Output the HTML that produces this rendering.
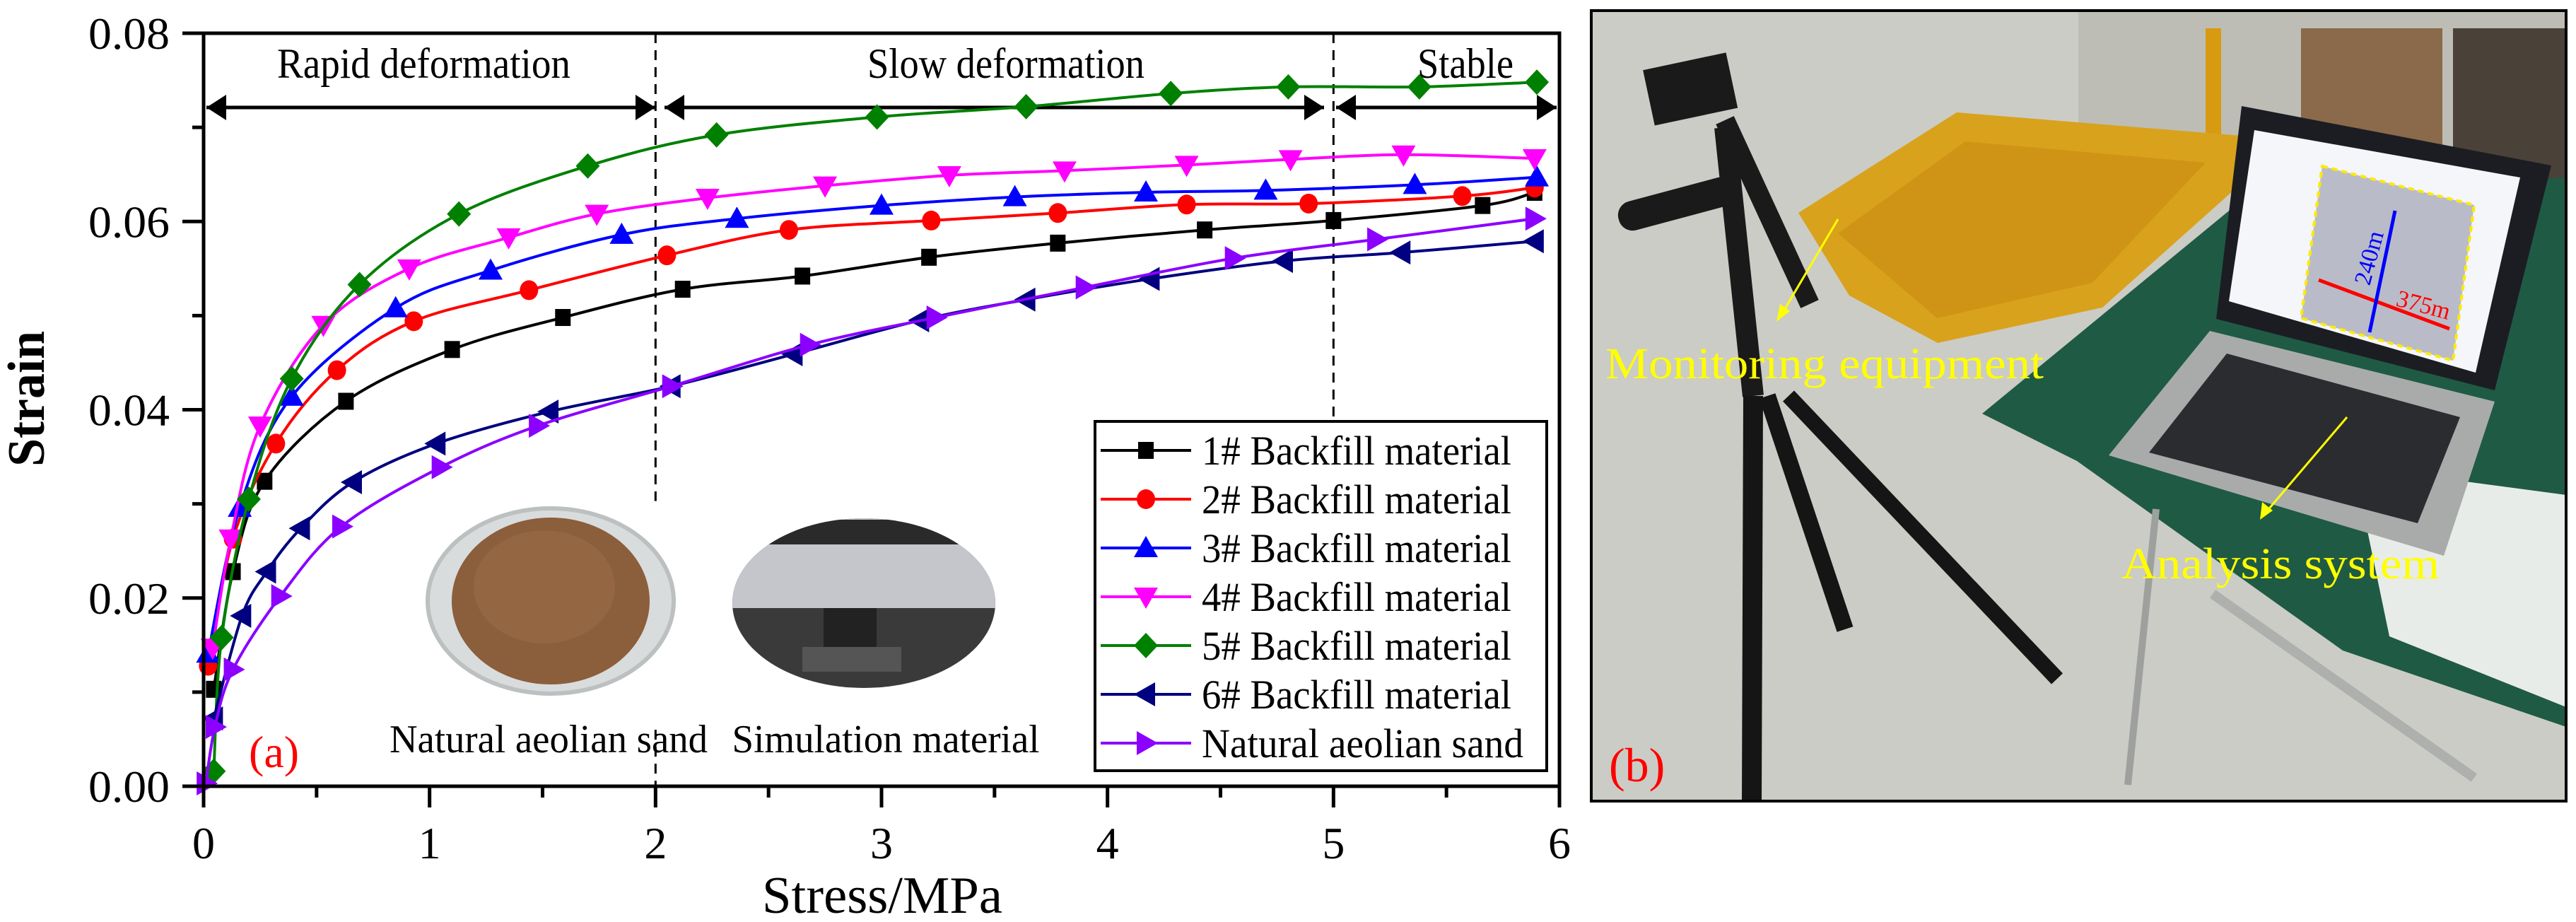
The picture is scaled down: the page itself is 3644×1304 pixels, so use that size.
<!DOCTYPE html>
<html><head><meta charset="utf-8"><style>
html,body{margin:0;padding:0;background:#fff;}
svg{display:block;}
svg text{font-family:"Liberation Serif","Times New Roman",serif;}
</style></head>
<body>
<svg id="fig" width="3644" height="1304" viewBox="0 0 3644 1304" xmlns="http://www.w3.org/2000/svg" font-family="Liberation Serif, Times New Roman, serif">
<defs>
<clipPath id="clipSim"><ellipse cx="1222" cy="853" rx="186" ry="120"/></clipPath>
<clipPath id="clipB"><rect x="2251" y="15" width="1379" height="1118"/></clipPath>
</defs>
<rect x="0" y="0" width="3644" height="1304" fill="#fff"/>
<g id="photoB" clip-path="url(#clipB)">
  <rect x="2251" y="15" width="1379" height="1118" fill="#cbccc5"/>
  <rect x="2940" y="15" width="690" height="230" fill="#bdbdb6"/>
  <rect x="3255" y="40" width="200" height="200" fill="#8a6a4a"/>
  <rect x="3470" y="40" width="160" height="220" fill="#4a4238"/>
  <rect x="3120" y="40" width="22" height="220" fill="#d89a10"/>
  <polygon points="2544,301 2768,159 3171,192 3171,259 2974,435 2741,485 2616,418" fill="#d9a21c"/>
  <polygon points="2600,330 2780,200 3120,230 2960,400 2740,450" fill="#c88a10" opacity="0.6"/>
  <polygon points="2804,585 3180,276 3630,251 3630,1028 3314,920 2938,652" fill="#1f5a45"/>
  <polygon points="3330,660 3630,700 3630,1000 3380,900" fill="#e8ece8"/>
  <polygon points="2983,644 3126,468 3529,568 3457,786" fill="#a9abab"/>
  <polygon points="3040,640 3150,500 3480,590 3420,740" fill="#2a2c30"/>
  <polygon points="3171,150 3609,234 3529,552 3135,451" fill="#1c1d22"/>
  <polygon points="3189,184 3565,251 3502,527 3153,426" fill="#f4f6fa"/>
  <polygon points="3285,235 3500,290 3470,510 3255,450" fill="#b9bcc8" stroke="#ffea00" stroke-width="4" stroke-dasharray="8,6"/>
  <line x1="3280" y1="396" x2="3465" y2="465" stroke="#ff0000" stroke-width="5"/>
  <line x1="3388" y1="298" x2="3352" y2="470" stroke="#0000ff" stroke-width="5"/>
  <text x="0" y="0" font-size="34" fill="#0000ff" transform="translate(3352,405) rotate(-75)">240m</text>
  <text x="3388" y="432" font-size="34" fill="#ff0000" transform="rotate(15 3388 432)">375m</text>
  <rect x="2330" y="85" width="120" height="80" fill="#1a1a1a" transform="rotate(-12 2395 120)"/>
  <rect x="2285" y="265" width="170" height="42" rx="20" fill="#1a1a1a" transform="rotate(-15 2380 280)"/>
  <line x1="2440" y1="170" x2="2560" y2="430" stroke="#1a1a1a" stroke-width="28"/>
  <line x1="2440" y1="180" x2="2480" y2="560" stroke="#1a1a1a" stroke-width="30"/>
  <line x1="2480" y1="560" x2="2478" y2="1133" stroke="#151515" stroke-width="28"/>
  <line x1="2500" y1="560" x2="2610" y2="890" stroke="#151515" stroke-width="24"/>
  <line x1="2530" y1="560" x2="2910" y2="960" stroke="#151515" stroke-width="22"/>
  <line x1="3050" y1="720" x2="3010" y2="1110" stroke="#9ea09e" stroke-width="10"/>
  <line x1="3130" y1="840" x2="3500" y2="1100" stroke="#aeb0ae" stroke-width="14"/>
  <line x1="2600" y1="310" x2="2520" y2="445" stroke="#ffff00" stroke-width="3"/>
  <polygon points="2513,455 2518,430 2532,440" fill="#ffff00"/>
  <line x1="3320" y1="590" x2="3205" y2="725" stroke="#ffff00" stroke-width="3"/>
  <polygon points="3197,735 3200,710 3215,722" fill="#ffff00"/>
  <text x="2271" y="535" font-size="62" fill="#ffff00" font-family="Liberation Serif, serif" textLength="620" lengthAdjust="spacingAndGlyphs">Monitoring equipment</text>
  <text x="3001" y="818" font-size="62" fill="#ffff00" font-family="Liberation Serif, serif" textLength="450" lengthAdjust="spacingAndGlyphs">Analysis system</text>
  <text x="2276" y="1105" font-size="68" fill="#ff0000" font-family="Liberation Serif, serif">(b)</text>
</g>
<rect x="2251" y="15" width="1379" height="1118" fill="none" stroke="#000" stroke-width="4"/>
<g id="chart"></g>
</svg>
<script>
const categoriesX = [0,1,2,3,4,5,6];
const yTicks = [0,0.02,0.04,0.06,0.08];
const yTickLabels = ["0.00","0.02","0.04","0.06","0.08"];
const seriesNames = ["1# Backfill material","2# Backfill material","3# Backfill material","4# Backfill material","5# Backfill material","6# Backfill material","Natural aeolian sand"];
const s1x = [0.045,0.13,0.27,0.63,1.10,1.59,2.12,2.65,3.21,3.78,4.43,5.0,5.66,5.89];
const s1y = [0.0103,0.0228,0.0324,0.0409,0.0464,0.0498,0.0528,0.0542,0.0562,0.0577,0.0591,0.0601,0.0617,0.0631];
const s2x = [0.02,0.13,0.32,0.59,0.93,1.44,2.05,2.59,3.22,3.78,4.35,4.89,5.57,5.89];
const s2y = [0.0128,0.0263,0.0364,0.0442,0.0494,0.0527,0.0564,0.0591,0.0601,0.0609,0.0618,0.0619,0.0627,0.0636];
const s3x = [0.02,0.16,0.39,0.85,1.27,1.85,2.36,3.0,3.59,4.17,4.70,5.36,5.90];
const s3y = [0.0141,0.0296,0.0414,0.0508,0.0548,0.0586,0.0603,0.0617,0.0626,0.0631,0.0633,0.0639,0.0647];
const s4x = [0.04,0.12,0.25,0.53,0.91,1.35,1.74,2.23,2.75,3.30,3.81,4.35,4.81,5.31,5.89];
const s4y = [0.0147,0.0263,0.0383,0.0490,0.0550,0.0583,0.0608,0.0625,0.0638,0.0649,0.0654,0.0660,0.0666,0.0671,0.0667];
const s5x = [0.045,0.08,0.20,0.39,0.69,1.13,1.70,2.27,2.98,3.64,4.28,4.80,5.38,5.90];
const s5y = [0.0016,0.0158,0.0305,0.0433,0.0533,0.0608,0.0659,0.0692,0.0711,0.0722,0.0736,0.0743,0.0743,0.0748];
const s6x = [0.045,0.17,0.28,0.43,0.66,1.03,1.53,2.07,2.61,3.17,3.64,4.19,4.78,5.30,5.89];
const s6y = [0.0072,0.0181,0.0228,0.0274,0.0323,0.0364,0.0398,0.0425,0.0459,0.0495,0.0517,0.0539,0.0558,0.0567,0.0579];
const s7x = [0.01,0.05,0.13,0.34,0.61,1.05,1.48,2.07,2.68,3.24,3.90,4.56,5.19,5.89];
const s7y = [0.0003,0.0063,0.0124,0.0202,0.0276,0.0339,0.0383,0.0425,0.0469,0.0498,0.0530,0.0561,0.0581,0.0603];

const NS="http://www.w3.org/2000/svg";
const FONT="Liberation Serif, Times New Roman, serif";
const X0=288,X1=2206,Y0=1112,Y1=47;
const xs=v=>X0+(X1-X0)*v/6;
const ys=v=>Y0-(Y0-Y1)*v/0.08;
const g=document.getElementById('chart');
function mk(tag,attrs,parent){const e=document.createElementNS(NS,tag);for(const k in attrs)e.setAttribute(k,attrs[k]);(parent||g).appendChild(e);return e;}
function txt(x,y,s,size,extra,parent){const t=mk('text',Object.assign({x:x,y:y,'font-size':size,'font-family':FONT},extra||{}),parent);t.textContent=s;return t;}

// inset photos
let p=mk('ellipse',{cx:779,cy:850,rx:174,ry:131,fill:'#d9dcdc',stroke:'#bcc0c0','stroke-width':6});


mk('ellipse',{cx:779,cy:850,rx:140,ry:118,fill:'#8b5e3c'});
mk('ellipse',{cx:770,cy:830,rx:100,ry:80,fill:'#9a6a45',opacity:0.7});
const sim=mk('g',{'clip-path':'url(#clipSim)'});


mk('rect',{x:1030,y:730,width:390,height:250,fill:'#3a3a3a'},sim);
mk('rect',{x:1030,y:730,width:390,height:130,fill:'#c4c6cc'},sim);
mk('rect',{x:1060,y:735,width:300,height:35,fill:'#2a2a2a'},sim);
mk('rect',{x:1165,y:860,width:75,height:60,fill:'#222'},sim);
mk('rect',{x:1135,y:915,width:140,height:35,fill:'#555'},sim);

// dashed lines
[[2,Y1,ys(0.0303)],[2,ys(0.006),Y0],[5,Y1,596]].forEach(d=>{
  const l=mk('line',{x1:xs(d[0]),x2:xs(d[0]),y1:d[1],y2:d[2],stroke:'#000','stroke-width':3,'stroke-dasharray':'14,10'});
  
  
});

// arrows
const ay=152;
function arrow(a,b){
  const l=mk('line',{x1:a,x2:b,y1:ay,y2:ay,stroke:'#000','stroke-width':5});
  
  
  mk('polygon',{points:`${a},${ay} ${a+28},${ay-18} ${a+28},${ay+18}`,fill:'#000'});
  mk('polygon',{points:`${b},${ay} ${b-28},${ay-18} ${b-28},${ay+18}`,fill:'#000'});
}
arrow(292,927);arrow(940,1873);arrow(1890,2202);
let t=txt(392,110,'Rapid deformation',60,{textLength:415,lengthAdjust:'spacingAndGlyphs'});


t=txt(1227,110,'Slow deformation',60,{textLength:392,lengthAdjust:'spacingAndGlyphs'});


t=txt(2005,110,'Stable',60,{textLength:136,lengthAdjust:'spacingAndGlyphs'});



const colors=['#000000','#ff0000','#0000ff','#ff00ff','#008000','#000080','#8b00ff'];
const shapes=['square','circle','up','down','diamond','left','right'];
const SX=[s1x,s2x,s3x,s4x,s5x,s6x,s7x],SY=[s1y,s2y,s3y,s4y,s5y,s6y,s7y];

function marker(shape,cx,cy,col,parent){
  let e;
  if(shape==='square')e=mk('rect',{x:cx-11,y:cy-12,width:22,height:24,fill:col},parent);
  else if(shape==='circle')e=mk('ellipse',{cx:cx,cy:cy,rx:13,ry:14,fill:col},parent);
  else{let pts;
    if(shape==='up')pts=[[cx,cy-17],[cx+17,cy+13],[cx-17,cy+13]];
    if(shape==='down')pts=[[cx,cy+17],[cx+17,cy-13],[cx-17,cy-13]];
    if(shape==='diamond')pts=[[cx,cy-18],[cx+17,cy],[cx,cy+18],[cx-17,cy]];
    if(shape==='left')pts=[[cx-17,cy],[cx+13,cy-17],[cx+13,cy+17]];
    if(shape==='right')pts=[[cx+17,cy],[cx-13,cy-17],[cx-13,cy+17]];
    e=mk('polygon',{points:pts.map(q=>q.join(',')).join(' '),fill:col},parent);}
  return e;
}
function smooth(pts){
  let d=`M${pts[0][0]},${pts[0][1]}`;
  for(let i=0;i<pts.length-1;i++){
    const p0=pts[Math.max(0,i-1)],p1=pts[i],p2=pts[i+1],p3=pts[Math.min(pts.length-1,i+2)];
    const c1=[p1[0]+(p2[0]-p0[0])/6,p1[1]+(p2[1]-p0[1])/6];
    const c2=[p2[0]-(p3[0]-p1[0])/6,p2[1]-(p3[1]-p1[1])/6];
    d+=` C${c1[0]},${c1[1]} ${c2[0]},${c2[1]} ${p2[0]},${p2[1]}`;
  }
  return d;
}
for(let s=0;s<7;s++){
  const pts=SX[s].map((v,i)=>[xs(v),ys(SY[s][i])]);
  const sg=mk('g',{});
  
  
  const path=mk('path',{d:smooth(pts),fill:'none',stroke:colors[s],'stroke-width':4},sg);
  
  
  pts.forEach(q=>{
    const m=marker(shapes[s],q[0],q[1],colors[s],sg);
    
    
  });
}

// axes frame
let ax=mk('rect',{x:X0,y:Y1,width:X1-X0,height:Y0-Y1,fill:'none',stroke:'#000','stroke-width':5});


for(let v=0;v<=6;v+=0.5){
  const major=Number.isInteger(v);
  const l=mk('line',{x1:xs(v),x2:xs(v),y1:Y0,y2:Y0+(major?30:16),stroke:'#000','stroke-width':5});
  
  
}
categoriesX.forEach(v=>{
  const t=txt(xs(v),1214,String(v),64,{'text-anchor':'middle'});
  
  
});
for(let v=0;v<=0.0801;v+=0.01){
  const major=Math.round(v*100)%2===0;
  const l=mk('line',{x1:X0,x2:X0-(major?30:16),y1:ys(v),y2:ys(v),stroke:'#000','stroke-width':5});
  
  
}
yTicks.forEach((v,i)=>{
  const t=txt(240,ys(v)+22,yTickLabels[i],64,{'text-anchor':'end',textLength:115,lengthAdjust:'spacingAndGlyphs'});
  
  
});
t=txt(1248,1291,'Stress/MPa',74,{'text-anchor':'middle',textLength:340,lengthAdjust:'spacingAndGlyphs'});


t=txt(0,0,'Strain',74,{'text-anchor':'middle','font-weight':'bold',transform:'translate(62,564) rotate(-90)',textLength:192,lengthAdjust:'spacingAndGlyphs'});



t=txt(352,1085,'(a)',64,{fill:'#ff0000'});


t=txt(776,1064,'Natural aeolian sand',56,{'text-anchor':'middle',textLength:450,lengthAdjust:'spacingAndGlyphs'});


t=txt(1253,1064,'Simulation material',56,{'text-anchor':'middle',textLength:435,lengthAdjust:'spacingAndGlyphs'});



// legend
const lg=mk('g',{});


mk('rect',{x:1549,y:596,width:639,height:494,fill:'#fff',stroke:'#000','stroke-width':4},lg);
seriesNames.forEach((n,i)=>{
  const y=637+i*69;
  const e=mk('g',{},lg);
  
  
  mk('line',{x1:1557,x2:1685,y1:y,y2:y,stroke:colors[i],'stroke-width':4},e);
  marker(shapes[i],1621,y,colors[i],e);
  txt(1700,y+20,n,58,{textLength:i===6?455:438,lengthAdjust:'spacingAndGlyphs'},e);
});
</script>
</body></html>
